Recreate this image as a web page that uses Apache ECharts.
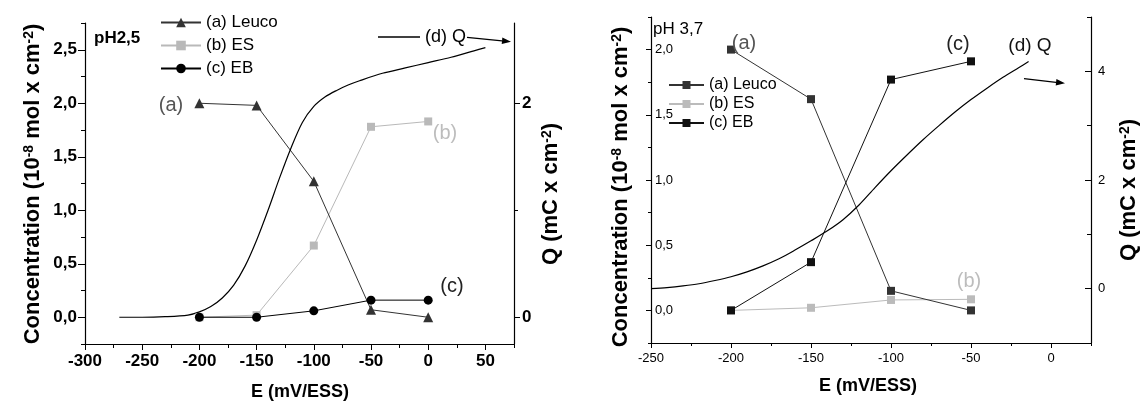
<!DOCTYPE html>
<html>
<head>
<meta charset="utf-8">
<script src="https://cdn.jsdelivr.net/npm/echarts@6/dist/echarts.min.js"></script>
<style>
html,body{margin:0;padding:0;background:#fff;}
#chart{width:1142px;height:403px;}
</style>
</head>
<body>
<div id="chart"></div>
<script>
// ---------- data: left panel (pH 2,5) ----------
const leftE = [-200, -150, -100, -50, 0];
const leftLeuco = [2.0, 1.98, 1.27, 0.07, 0.0];
const leftES = [0.0, 0.02, 0.67, 1.78, 1.83];
const leftEB = [0.0, 0.0, 0.06, 0.16, 0.16];
const leftQE = [-270, -250, -230, -210, -200, -190, -180, -170, -160, -150, -140, -130, -120, -110, -100, -90, -80, -70, -60, -40, -20, 0, 20, 40, 50];
const leftQ = [0, 0, 0.005, 0.02, 0.05, 0.1, 0.18, 0.3, 0.48, 0.72, 1.0, 1.3, 1.58, 1.82, 1.97, 2.06, 2.12, 2.17, 2.21, 2.28, 2.33, 2.38, 2.43, 2.49, 2.52];
const leftXTicks = [-300, -250, -200, -150, -100, -50, 0, 50];
const leftXMinor = [-275, -225, -175, -125, -75, -25, 25, 75];
const leftYTicks = [0, 0.5, 1.0, 1.5, 2.0, 2.5];
const leftYMinor = [-0.25, 0.25, 0.75, 1.25, 1.75, 2.25, 2.75];
const leftQTicks = [0, 2];
const leftQMinor = [1];

// ---------- data: right panel (pH 3,7) ----------
const rightE = [-200, -150, -100, -50];
const rightLeuco = [2.0, 1.62, 0.15, 0.0];
const rightES = [0.0, 0.02, 0.08, 0.085];
const rightEB = [0.0, 0.37, 1.77, 1.91];
const rightQE = [-250, -240, -230, -220, -210, -200, -190, -180, -170, -160, -150, -140, -130, -120, -110, -100, -90, -80, -70, -60, -50, -40, -30, -20, -14];
const rightQ = [0.0, 0.02, 0.05, 0.09, 0.15, 0.22, 0.31, 0.42, 0.55, 0.71, 0.88, 1.06, 1.27, 1.54, 1.86, 2.17, 2.46, 2.74, 3.0, 3.25, 3.48, 3.69, 3.89, 4.07, 4.18];
const rightXTicks = [-250, -200, -150, -100, -50, 0];
const rightXMinor = [-225, -175, -125, -75, -25, 25];
const rightYTicks = [0, 0.5, 1.0, 1.5, 2.0];
const rightYMinor = [-0.25, 0.25, 0.75, 1.25, 1.75, 2.25];
const rightQTicks = [0, 2, 4];
const rightQMinor = [-1, 1, 3, 5];

const FONT = 'Arial, "Liberation Sans", sans-serif';
const pair = (xs, ys) => xs.map((x, i) => [x, ys[i]]);
const comma = v => v.toFixed(1).replace('.', ',');

function mainAxis(o) {
  return {
    type: 'value', gridIndex: o.grid, position: o.pos, min: o.min, max: o.max, interval: o.interval,
    axisLine: { show: true, onZero: false, lineStyle: { color: '#000', width: 1.2 } },
    splitLine: { show: false },
    axisTick: { show: true, inside: !!o.tickInside, length: o.tickLen, customValues: o.ticks, lineStyle: { color: '#000', width: 1 } },
    axisLabel: { show: true, inside: !!o.labelInside, customValues: o.ticks, margin: o.margin, formatter: o.fmt,
      color: '#000', fontFamily: FONT, fontSize: o.fs, fontWeight: o.fw },
    z: 5
  };
}
function minorAxis(o) {
  return {
    type: 'value', gridIndex: o.grid, position: o.pos, min: o.min, max: o.max, interval: o.interval,
    axisLine: { show: false, onZero: false },
    splitLine: { show: false },
    axisTick: { show: true, inside: !!o.tickInside, length: o.tickLen, customValues: o.ticks, lineStyle: { color: '#000', width: 1 } },
    axisLabel: { show: false },
    z: 5
  };
}

function arrow(x1, y1, x2, y2) {
  const a = Math.atan2(y2 - y1, x2 - x1), L = 9, W = 3.2;
  const bx = x2 - L * Math.cos(a), by = y2 - L * Math.sin(a);
  return [
    { type: 'line', shape: { x1: x1, y1: y1, x2: bx, y2: by }, style: { stroke: '#000', lineWidth: 1.2 } },
    { type: 'polygon', shape: { points: [[x2, y2], [bx - W * Math.sin(a), by + W * Math.cos(a)], [bx + W * Math.sin(a), by - W * Math.cos(a)]] }, style: { fill: '#000' } }
  ];
}
function txt(x, y, text, size, color, weight, align) {
  return { type: 'text', x: x, y: y, z: 20,
    style: { text: text, fill: color, font: (weight || 'normal') + ' ' + size + 'px ' + FONT, align: align || 'center', verticalAlign: 'middle' } };
}
function vtitle(x, y, text, size) {
  return { type: 'text', x: x, y: y, rotation: Math.PI / 2, z: 20,
    style: { text: text, fill: '#000', font: 'bold ' + size + 'px ' + FONT, align: 'center', verticalAlign: 'middle',
      rich: { sup: { fontSize: Math.round(size * 0.62), fontWeight: 'bold', fontFamily: FONT, verticalAlign: 'top', fill: '#000' } } } };
}

const chart = echarts.init(document.getElementById('chart'), null, { renderer: 'canvas' });

const option = {
  animation: false,
  backgroundColor: '#fff',
  grid: [
    { left: 85, top: 23, width: 429, height: 321 },
    { left: 651, top: 17, width: 440, height: 326 }
  ],
  xAxis: [
    mainAxis({ grid: 0, pos: 'bottom', min: -300, max: 75, interval: 25, ticks: leftXTicks, tickLen: 6, margin: 9, fs: 17, fw: 'bold', fmt: v => String(v) }),
    minorAxis({ grid: 0, pos: 'bottom', min: -300, max: 75, interval: 25, ticks: leftXMinor, tickLen: 4 }),
    mainAxis({ grid: 1, pos: 'bottom', min: -250, max: 25, interval: 25, ticks: rightXTicks, tickLen: 5, margin: 9, fs: 13, fw: 'normal', fmt: v => String(v) }),
    minorAxis({ grid: 1, pos: 'bottom', min: -250, max: 25, interval: 25, ticks: rightXMinor, tickLen: 3 })
  ],
  yAxis: [
    mainAxis({ grid: 0, pos: 'left', min: -0.25, max: 2.75, interval: 0.25, ticks: leftYTicks, tickLen: 7, margin: 8, fs: 17, fw: 'bold', fmt: comma }),
    minorAxis({ grid: 0, pos: 'left', min: -0.25, max: 2.75, interval: 0.25, ticks: leftYMinor, tickLen: 4 }),
    mainAxis({ grid: 0, pos: 'right', min: -0.25, max: 2.75, interval: 0.25, ticks: leftQTicks, tickLen: 6, margin: 8, fs: 17, fw: 'bold', fmt: v => String(v) }),
    minorAxis({ grid: 0, pos: 'right', min: -0.25, max: 2.75, interval: 0.25, ticks: leftQMinor, tickLen: 4 }),
    mainAxis({ grid: 1, pos: 'left', min: -0.25, max: 2.25, interval: 0.25, ticks: rightYTicks, tickLen: 5, labelInside: true, margin: 4, fs: 13, fw: 'normal', fmt: comma }),
    minorAxis({ grid: 1, pos: 'left', min: -0.25, max: 2.25, interval: 0.25, ticks: rightYMinor, tickLen: 3 }),
    mainAxis({ grid: 1, pos: 'right', min: -1, max: 5, interval: 1, ticks: rightQTicks, tickLen: 6, tickInside: true, margin: 7, fs: 13, fw: 'normal', fmt: v => String(v) }),
    minorAxis({ grid: 1, pos: 'right', min: -1, max: 5, interval: 1, ticks: rightQMinor, tickLen: 4, tickInside: true })
  ],
  legend: [
    { left: 155, top: 9, orient: 'vertical', itemWidth: 40, itemHeight: 12, itemGap: 6, selectedMode: false,
      textStyle: { fontSize: 17, color: '#000', fontFamily: FONT },
      data: ['(a) Leuco', '(b) ES', '(c) EB'] },
    { left: 373, top: 23, itemWidth: 42, itemHeight: 1.5, selectedMode: false,
      textStyle: { fontSize: 18, color: '#000', fontFamily: FONT },
      data: [{ name: '(d) Q', icon: 'rect' }] },
    { left: 663, top: 72, orient: 'vertical', itemWidth: 35, itemHeight: 10, itemGap: 3, selectedMode: false,
      textStyle: { fontSize: 16, color: '#000', fontFamily: FONT },
      formatter: n => n.replace(/^R /, ''),
      data: ['R (a) Leuco', 'R (b) ES', 'R (c) EB'] }
  ],
  series: [
    // left panel
    { name: '(b) ES', type: 'line', xAxisIndex: 0, yAxisIndex: 0, data: pair(leftE, leftES),
      symbol: 'rect', symbolSize: 8, color: '#b9b9b9', lineStyle: { width: 1, color: '#b9b9b9' }, itemStyle: { color: '#b9b9b9' } },
    { name: '(c) EB', type: 'line', xAxisIndex: 0, yAxisIndex: 0, data: pair(leftE, leftEB),
      symbol: 'circle', symbolSize: 9, color: '#000', lineStyle: { width: 1, color: '#000' }, itemStyle: { color: '#000' } },
    { name: '(a) Leuco', type: 'line', xAxisIndex: 0, yAxisIndex: 0, data: pair(leftE, leftLeuco),
      symbol: 'triangle', symbolSize: 10, color: '#333', lineStyle: { width: 1, color: '#333' }, itemStyle: { color: '#333' } },
    { name: '(d) Q', type: 'line', xAxisIndex: 0, yAxisIndex: 2, data: pair(leftQE, leftQ),
      symbol: 'none', smooth: 0.3, color: '#000', lineStyle: { width: 1.2, color: '#000' } },
    // right panel
    { name: 'R (b) ES', type: 'line', xAxisIndex: 2, yAxisIndex: 4, data: pair(rightE, rightES),
      symbol: 'rect', symbolSize: 8, color: '#bbbbbb', lineStyle: { width: 1, color: '#bbbbbb' }, itemStyle: { color: '#bbbbbb' } },
    { name: 'R (a) Leuco', type: 'line', xAxisIndex: 2, yAxisIndex: 4, data: pair(rightE, rightLeuco),
      symbol: 'rect', symbolSize: 8, color: '#333', lineStyle: { width: 1, color: '#333' }, itemStyle: { color: '#333' } },
    { name: 'R (c) EB', type: 'line', xAxisIndex: 2, yAxisIndex: 4, data: pair(rightE, rightEB),
      symbol: 'rect', symbolSize: 8, color: '#111', lineStyle: { width: 1, color: '#111' }, itemStyle: { color: '#111' } },
    { name: 'R (d) Q', type: 'line', xAxisIndex: 2, yAxisIndex: 6, data: pair(rightQE, rightQ),
      symbol: 'none', smooth: 0.3, color: '#000', lineStyle: { width: 1.2, color: '#000' } }
  ],
  graphic: [
    // left panel texts
    txt(94, 38, 'pH2,5', 17, '#000', 'bold', 'left'),
    txt(171, 105, '(a)', 20, '#555'),
    txt(445, 133, '(b)', 20, '#bdbdbd'),
    txt(452, 286, '(c)', 20, '#222'),
    // right panel texts
    txt(653, 29, 'pH 3,7', 17, '#000', 'normal', 'left'),
    txt(744, 43, '(a)', 20, '#555'),
    txt(958, 44, '(c)', 20, '#222'),
    txt(1030, 46, '(d) Q', 19, '#111'),
    txt(969, 281, '(b)', 20, '#bdbdbd'),
    // axis titles
    vtitle(33, 184, 'Concentration (10{sup|-8} mol x cm{sup|-2})', 22),
    vtitle(551, 194, 'Q (mC x cm{sup|-2})', 22),
    vtitle(621, 187, 'Concentration (10{sup|-8} mol x cm{sup|-2})', 22),
    vtitle(1129, 190, 'Q (mC x cm{sup|-2})', 22),
    txt(300, 392, 'E (mV/ESS)', 18, '#000', 'bold'),
    txt(868, 386, 'E (mV/ESS)', 18, '#000', 'bold')
  ].concat(arrow(467, 37.3, 511, 41.7)).concat(arrow(1024, 78.7, 1065, 83.3))
};
chart.setOption(option);
</script>
</body>
</html>
